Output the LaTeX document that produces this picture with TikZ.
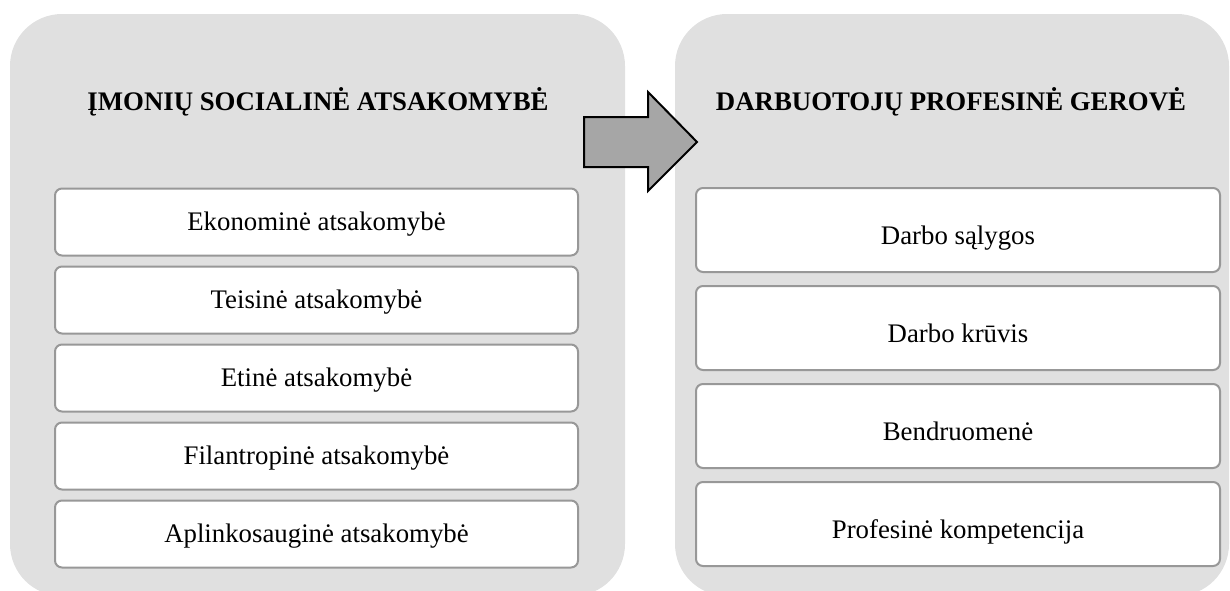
\documentclass[tikz,border=0pt]{standalone}
\usepackage{fontspec}
\setmainfont{Liberation Serif}
\usepackage{tikz}
\usetikzlibrary{positioning}
\usepackage{xcolor}
\definecolor{panelgray}{HTML}{E0E0E0}
\definecolor{boxedge}{HTML}{989898}
\definecolor{arrowgray}{HTML}{A6A6A6}
\tikzset{
  panel/.style={fill=panelgray, rounded corners=52pt},
  heading/.style={anchor=base, font=\fontsize{26.8}{30}\selectfont\bfseries},
  item/.style={draw=boxedge, line width=2pt, fill=white, rounded corners=7pt,
    outer sep=0pt, inner ysep=0pt, font=\fontsize{26.8}{30}\selectfont},
  leftitem/.style={item, minimum width=523pt, minimum height=67pt,
    text height=20pt, text depth=4pt},
  rightitem/.style={item, minimum width=524pt, minimum height=84pt,
    text height=30pt, text depth=2pt}
}

\begin{document}
\begin{tikzpicture}[x=1pt,y=-1pt]
\useasboundingbox (0,0) rectangle (1230,590);
\fill[panel] (10,14) rectangle (625,596);
\fill[panel] (675,14) rectangle (1229,596);
\node[heading] (lefttitle) at (318,110) {ĮMONIŲ SOCIALINĖ ATSAKOMYBĖ};
\node[heading] (righttitle) at (951,110) {DARBUOTOJŲ PROFESINĖ GEROVĖ};
% left column
\node[leftitem] (eko) at (316.5,222) {Ekonominė atsakomybė};
\node[leftitem, below=11pt of eko] (teis) {Teisinė atsakomybė};
\node[leftitem, below=11pt of teis] (etin) {Etinė atsakomybė};
\node[leftitem, below=11pt of etin] (filan) {Filantropinė atsakomybė};
\node[leftitem, below=11pt of filan] (aplink) {Aplinkosauginė atsakomybė};
% right column
\node[rightitem] (salygos) at (958,230) {Darbo sąlygos};
\node[rightitem, below=14pt of salygos] (kruvis) {Darbo krūvis};
\node[rightitem, below=14pt of kruvis] (bendr) {Bendruomenė};
\node[rightitem, below=14pt of bendr] (kompet) {Profesinė kompetencija};
% block arrow
\draw[fill=arrowgray, line width=2pt, line join=miter]
  (584,117)--(648,117)--(648,92)--(697,142)--(648,191)--(648,167)--(584,167)--cycle;
\end{tikzpicture}
\end{document}
